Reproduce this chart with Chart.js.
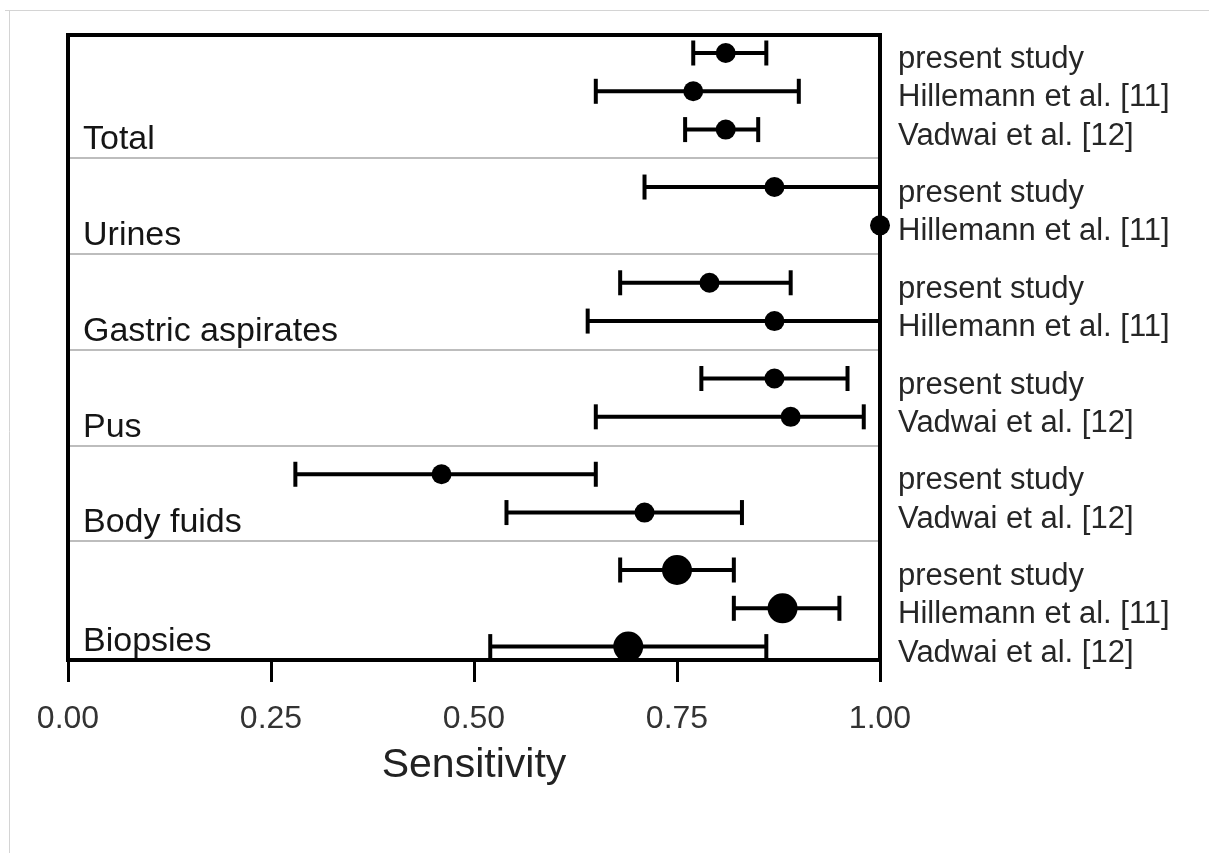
<!DOCTYPE html>
<html>
<head>
<meta charset="utf-8">
<script src="https://cdn.jsdelivr.net/npm/chart.js@4.4.1/dist/chart.umd.min.js"></script>
<style>
  html, body { margin: 0; padding: 0; background: #fff; }
  #wrap { width: 1209px; height: 853px; position: relative; }
</style>
</head>
<body>
<div id="wrap"><canvas id="forestChart"></canvas></div>
<script>
// sample types (left labels), top to bottom
const groups = ['Total', 'Urines', 'Gastric aspirates', 'Pus', 'Body fuids', 'Biopsies'];
// studies shown for each sample type (right labels)
const studies = [
  ['present study', 'Hillemann et al. [11]', 'Vadwai et al. [12]'],
  ['present study', 'Hillemann et al. [11]'],
  ['present study', 'Hillemann et al. [11]'],
  ['present study', 'Vadwai et al. [12]'],
  ['present study', 'Vadwai et al. [12]'],
  ['present study', 'Hillemann et al. [11]', 'Vadwai et al. [12]']
];
// sensitivity estimate and 95% CI
const sens   = [[0.81, 0.77, 0.81], [0.87, 1.00], [0.79, 0.87], [0.87, 0.89], [0.46, 0.71], [0.75, 0.88, 0.69]];
const ciLow  = [[0.77, 0.65, 0.76], [0.71, 1.00], [0.68, 0.64], [0.78, 0.65], [0.28, 0.54], [0.68, 0.82, 0.52]];
const ciHigh = [[0.86, 0.90, 0.85], [1.00, 1.00], [0.89, 1.00], [0.96, 0.98], [0.65, 0.83], [0.82, 0.95, 0.86]];
const xTicks = ['0.00', '0.25', '0.50', '0.75', '1.00'];

// one row per study, half a row of extra space between sample types
const rows = [];
const spans = [];
let pos = 0;
groups.forEach((g, gi) => {
  const first = pos;
  studies[gi].forEach((s, si) => {
    rows.push({ group: gi, study: s, y: pos, est: sens[gi][si], lo: ciLow[gi][si], hi: ciHigh[gi][si] });
    pos += 1;
  });
  spans.push({ name: g, first: first, last: pos - 1 });
  pos += 0.5;
});
const yMin = -0.47;
const yMax = rows[rows.length - 1].y + 0.35;

const font = '"Liberation Sans", Arial, sans-serif';

const barData = [];
rows.forEach(r => {
  barData.push({ x: r.lo, y: r.y }, { x: r.hi, y: r.y }, { x: null, y: null });
});
const dotData = rows.map(r => ({ x: r.est, y: r.y }));

const forestDecor = {
  id: 'forestDecor',
  beforeDraw(chart) {
    const ctx = chart.ctx;
    ctx.save();
    ctx.strokeStyle = '#d4d4d4';
    ctx.lineWidth = 1;
    ctx.beginPath();
    ctx.moveTo(5, 10.5); ctx.lineTo(1209, 10.5);
    ctx.moveTo(9.5, 10); ctx.lineTo(9.5, 853);
    ctx.stroke();
    ctx.restore();
  },
  beforeDatasetsDraw(chart) {
    const { ctx, chartArea: a, scales: { y } } = chart;
    ctx.save();
    // separators between sample types
    ctx.strokeStyle = '#bdbdbd';
    ctx.lineWidth = 2;
    spans.slice(0, -1).forEach((s, i) => {
      const py = Math.round(y.getPixelForValue((s.last + spans[i + 1].first) / 2));
      ctx.beginPath();
      ctx.moveTo(a.left, py);
      ctx.lineTo(a.right, py);
      ctx.stroke();
    });
    // box
    ctx.strokeStyle = '#000';
    ctx.lineWidth = 4;
    ctx.strokeRect(a.left, a.top, a.right - a.left, a.bottom - a.top);
    // sample type labels
    ctx.textAlign = 'left';
    ctx.textBaseline = 'alphabetic';
    ctx.fillStyle = '#151515';
    ctx.font = '34px ' + font;
    spans.forEach((s, i) => {
      const bottom = i < spans.length - 1 ? y.getPixelForValue(s.last + 0.75) : a.bottom;
      ctx.fillText(s.name, a.left + 15, bottom - 9);
    });
    // study labels
    ctx.fillStyle = '#262626';
    ctx.font = '31px ' + font;
    rows.forEach(r => {
      ctx.fillText(r.study, a.right + 18, y.getPixelForValue(r.y) + 15);
    });
    ctx.restore();
  }
};

const ctx = document.getElementById('forestChart');
const forestChart = new Chart(ctx, {
  type: 'scatter',
  data: {
    datasets: [{
      label: 'CI',
      data: barData,
      showLine: true,
      spanGaps: false,
      borderColor: '#000',
      borderWidth: 4,
      pointStyle: 'line',
      rotation: 90,
      pointRadius: 12.5,
      pointBorderColor: '#000',
      pointBorderWidth: 4,
      clip: false
    }, {
      label: 'Sensitivity',
      data: dotData,
      backgroundColor: '#000',
      borderWidth: 0,
      pointRadius: c => groups[rows[c.dataIndex].group] === 'Biopsies' ? 15 : 10,
      clip: false
    }]
  },
  options: {
    responsive: true,
    maintainAspectRatio: false,
    animation: false,
    events: [],
    layout: { padding: { left: 68, top: 35, right: 329, bottom: 0 } },
    plugins: { legend: { display: false }, tooltip: { enabled: false } },
    scales: {
      x: {
        type: 'linear',
        min: 0,
        max: 1,
        afterBuildTicks: s => { s.ticks = xTicks.map(t => ({ value: parseFloat(t) })); },
        afterFit: s => { s.height = 193; },
        ticks: {
          callback: (v, i) => xTicks[i],
          color: '#333',
          font: { family: font, size: 32 },
          padding: 18,
          maxRotation: 0,
          autoSkip: false
        },
        grid: {
          display: true,
          drawOnChartArea: false,
          drawTicks: true,
          tickLength: 22,
          tickWidth: 3,
          tickColor: '#000'
        },
        border: { display: true, color: '#000', width: 4 },
        title: {
          display: true,
          text: 'Sensitivity',
          color: '#222',
          font: { family: font, size: 41 },
          padding: { top: 0, bottom: 63 }
        }
      },
      y: {
        type: 'linear',
        display: false,
        reverse: true,
        min: yMin,
        max: yMax
      }
    }
  },
  plugins: [forestDecor]
});
</script>
</body>
</html>
